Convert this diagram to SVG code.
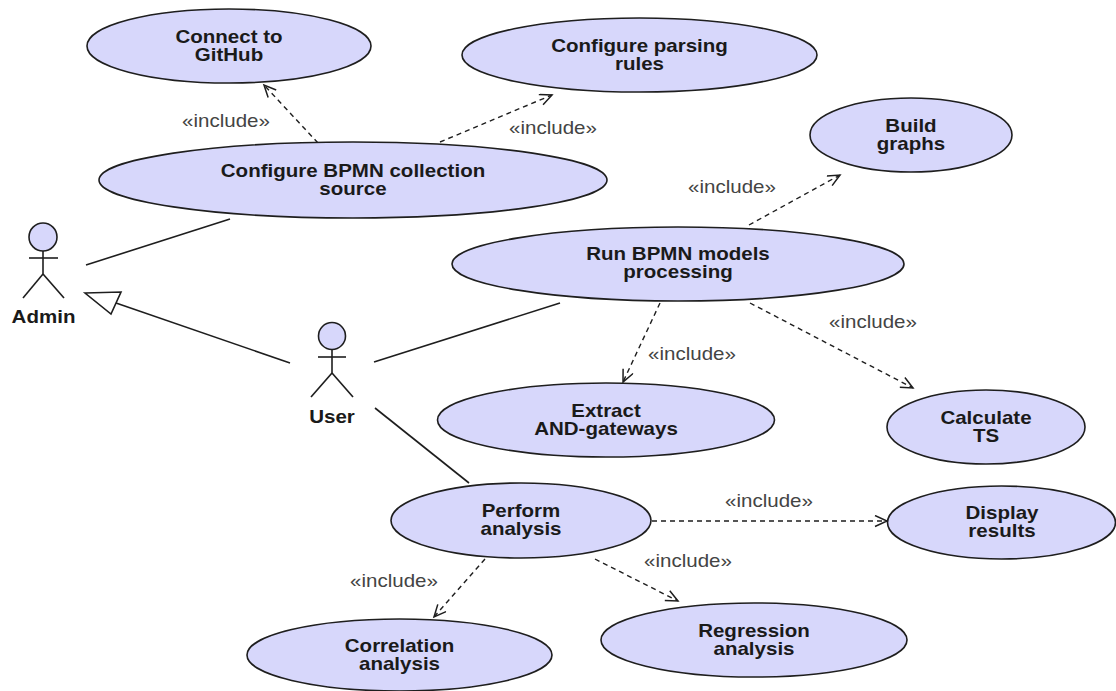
<svg xmlns="http://www.w3.org/2000/svg" width="1116" height="691" viewBox="0 0 1116 691">
<style>
.uc ellipse{fill:#d7d7fb;stroke:#1e1e1e;stroke-width:1.6}
.t{font-family:"Liberation Sans",Arial,sans-serif;font-weight:bold;font-size:18px;fill:#1a1a1a;text-anchor:middle}
.lbl{font-family:"Liberation Sans",Arial,sans-serif;font-size:18px;fill:#444;text-anchor:middle}
.assoc{stroke:#1e1e1e;stroke-width:1.6;fill:none}
.dep{stroke:#1e1e1e;stroke-width:1.4;fill:none;stroke-dasharray:5,4;marker-end:url(#open)}
.actor circle{fill:#d7d7fb;stroke:#1e1e1e;stroke-width:1.6}
.actor line{stroke:#1e1e1e;stroke-width:1.6}
</style>
<defs>
<marker id="open" markerUnits="userSpaceOnUse" markerWidth="16" markerHeight="14" refX="13" refY="6" orient="auto" viewBox="0 0 16 14">
<path d="M1,0.5 L13,6 L1,11.5" fill="none" stroke="#1e1e1e" stroke-width="1.5"/>
</marker>
</defs>
<rect width="1116" height="691" fill="#ffffff"/>

<g id="connectors">
<line class="assoc" x1="86" y1="265" x2="230" y2="219"/>
<line class="assoc" x1="374" y1="362" x2="560" y2="303"/>
<line class="assoc" x1="375" y1="408" x2="469" y2="483"/>
<line class="assoc" x1="290" y1="363" x2="116" y2="303"/>
<polygon points="85,293 121,292 111,314" fill="#ffffff" stroke="#1e1e1e" stroke-width="1.6"/>
<line class="dep" x1="318" y1="143" x2="264" y2="85"/>
<line class="dep" x1="440" y1="142" x2="552" y2="95"/>
<line class="dep" x1="749" y1="225" x2="840" y2="175"/>
<line class="dep" x1="660" y1="303" x2="623" y2="382"/>
<line class="dep" x1="750" y1="303" x2="913" y2="388"/>
<line class="dep" x1="652" y1="521" x2="887" y2="521"/>
<line class="dep" x1="595" y1="559" x2="678" y2="601"/>
<line class="dep" x1="485" y1="559" x2="434" y2="617"/>
<text class="lbl" transform="translate(226,127) scale(1.14,1)">«include»</text>
<text class="lbl" transform="translate(553,134) scale(1.14,1)">«include»</text>
<text class="lbl" transform="translate(732,193) scale(1.14,1)">«include»</text>
<text class="lbl" transform="translate(873,328) scale(1.14,1)">«include»</text>
<text class="lbl" transform="translate(692,360) scale(1.14,1)">«include»</text>
<text class="lbl" transform="translate(769,507) scale(1.14,1)">«include»</text>
<text class="lbl" transform="translate(688,567) scale(1.14,1)">«include»</text>
<text class="lbl" transform="translate(394,587) scale(1.14,1)">«include»</text>
</g>

<g id="admin" class="actor">
<circle cx="43" cy="237" r="14"/>
<line x1="43" y1="251" x2="43" y2="274"/>
<line x1="29" y1="258" x2="58" y2="258"/>
<line x1="43" y1="274" x2="23" y2="298"/>
<line x1="43" y1="274" x2="64" y2="298"/>
<text class="t" transform="translate(43.5,323) scale(1.14,1)">Admin</text>
</g>

<g id="user" class="actor">
<circle cx="332" cy="336" r="13.5"/>
<line x1="332" y1="349.5" x2="332" y2="373"/>
<line x1="318" y1="357" x2="346" y2="357"/>
<line x1="332" y1="373" x2="311" y2="397"/>
<line x1="332" y1="373" x2="353" y2="397"/>
<text class="t" transform="translate(332,423) scale(1.14,1)">User</text>
</g>

<g id="connect-github" class="uc">
<ellipse cx="229" cy="46" rx="142" ry="37"/>
<text class="t" transform="translate(229,43) scale(1.14,1)"><tspan x="0">Connect to</tspan><tspan x="0" dy="18.5">GitHub</tspan></text>
</g>

<g id="configure-parsing" class="uc">
<ellipse cx="639.5" cy="55" rx="177.5" ry="37"/>
<text class="t" transform="translate(639.5,52) scale(1.14,1)"><tspan x="0">Configure parsing</tspan><tspan x="0" dy="18.5">rules</tspan></text>
</g>

<g id="configure-source" class="uc">
<ellipse cx="353" cy="180" rx="254" ry="38"/>
<text class="t" transform="translate(353,177) scale(1.14,1)"><tspan x="0">Configure BPMN collection</tspan><tspan x="0" dy="18.5">source</tspan></text>
</g>

<g id="build-graphs" class="uc">
<ellipse cx="911" cy="135" rx="101" ry="37"/>
<text class="t" transform="translate(911,132) scale(1.14,1)"><tspan x="0">Build</tspan><tspan x="0" dy="18.5">graphs</tspan></text>
</g>

<g id="run-processing" class="uc">
<ellipse cx="678" cy="264" rx="226" ry="37"/>
<text class="t" transform="translate(678,260) scale(1.14,1)"><tspan x="0">Run BPMN models</tspan><tspan x="0" dy="18.5">processing</tspan></text>
</g>

<g id="extract-gateways" class="uc">
<ellipse cx="606" cy="420" rx="168.5" ry="37"/>
<text class="t" transform="translate(606,417) scale(1.14,1)"><tspan x="0">Extract</tspan><tspan x="0" dy="18.5">AND-gateways</tspan></text>
</g>

<g id="calculate-ts" class="uc">
<ellipse cx="986" cy="427" rx="99" ry="37"/>
<text class="t" transform="translate(986,423.5) scale(1.14,1)"><tspan x="0">Calculate</tspan><tspan x="0" dy="19">TS</tspan></text>
</g>

<g id="perform-analysis" class="uc">
<ellipse cx="521" cy="520.5" rx="130" ry="37.5"/>
<text class="t" transform="translate(521,517) scale(1.14,1)"><tspan x="0">Perform</tspan><tspan x="0" dy="18.5">analysis</tspan></text>
</g>

<g id="display-results" class="uc">
<ellipse cx="1001.5" cy="522.5" rx="114" ry="36.5"/>
<text class="t" transform="translate(1002,518.5) scale(1.14,1)"><tspan x="0">Display</tspan><tspan x="0" dy="18.5">results</tspan></text>
</g>

<g id="regression-analysis" class="uc">
<ellipse cx="754" cy="640" rx="153" ry="37"/>
<text class="t" transform="translate(754,636.5) scale(1.14,1)"><tspan x="0">Regression</tspan><tspan x="0" dy="18.5">analysis</tspan></text>
</g>

<g id="correlation-analysis" class="uc">
<ellipse cx="399.5" cy="655" rx="152.5" ry="36"/>
<text class="t" transform="translate(399.5,652) scale(1.14,1)"><tspan x="0">Correlation</tspan><tspan x="0" dy="18.5">analysis</tspan></text>
</g>
</svg>
